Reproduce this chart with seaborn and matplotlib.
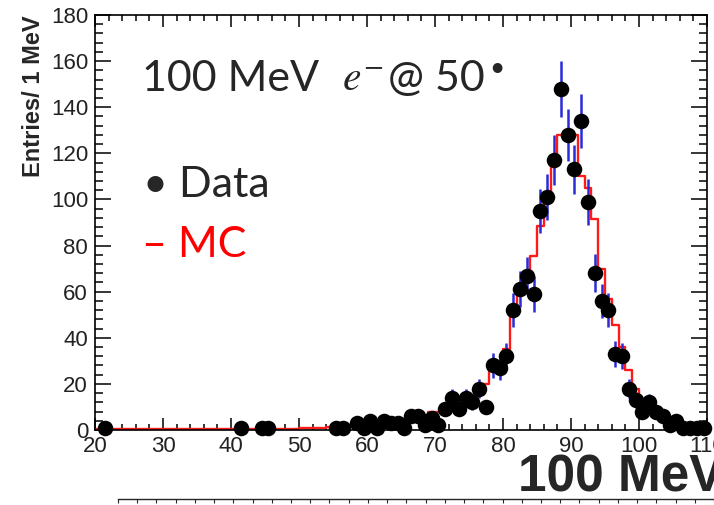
import numpy as np
import pandas as pd
import matplotlib
matplotlib.use("Agg")
import matplotlib.pyplot as plt
import seaborn as sns
from matplotlib.ticker import MultipleLocator
from matplotlib import font_manager as fm

# ---- data ----
data_energy = [21.5, 41.5, 44.5, 45.5, 55.5, 56.5, 58.5, 59.5, 60.5, 61.5,
               62.5, 63.5, 64.5, 65.5, 66.5, 67.5, 68.5, 69.5, 70.5, 71.5,
               72.5, 73.5, 74.5, 75.5, 76.5, 77.5, 78.5, 79.5, 80.5, 81.5,
               82.5, 83.5, 84.5, 85.5, 86.5, 87.5, 88.5, 89.5, 90.5, 91.5,
               92.5, 93.5, 94.5, 95.5, 96.5, 97.5, 98.5, 99.5, 100.5, 101.5,
               102.5, 103.5, 104.5, 105.5, 106.5, 107.5, 108.5, 109.5]
data_entries = [1, 1, 1, 1, 1, 1, 3, 1, 4, 1,
                4, 3, 3, 1, 6, 6, 2, 5, 2, 9,
                14, 9, 14, 12, 18, 10, 28, 27, 32, 52,
                61, 67, 59, 95, 101, 117, 148, 128, 113, 134,
                99, 68, 56, 52, 33, 32, 18, 13, 8, 12,
                8, 6, 2, 4, 1, 1, 1, 1]

mc_bin_low = list(range(20, 110))
mc_entries = [0.3, 0.3, 0.3, 0.3, 0.3, 0.3, 0.3, 0.3, 0.3, 0.3,
              0.4, 0.4, 0.4, 0.4, 0.4, 0.4, 0.4, 0.4, 0.4, 0.4,
              0.5, 0.5, 0.5, 0.5, 0.5, 0.5, 0.5, 0.5, 0.5, 0.5,
              0.8, 0.8, 0.9, 1.0, 1.2, 1.5, 1.5, 2.0, 2.0, 2.5,
              2.5, 3.0, 3.0, 3.5, 4.0, 4.5, 5.5, 6.0, 6.5, 8.0,
              8.0, 9.0, 10.0, 11.0, 12.0, 15.0, 17.0, 20.0, 27.0, 30.0,
              35.0, 50.0, 62.0, 67.0, 75.5, 88.5, 103.0, 116.0, 128.0, 128.0,
              128.0, 110.0, 105.0, 91.5, 70.0, 57.0, 45.5, 36.0, 26.0, 18.0,
              13.0, 9.0, 6.0, 4.0, 2.5, 2.0, 1.5, 1.0, 1.0, 0.8]

x_ticks_major = 10
y_ticks_major = 20

sns.set_theme(style="ticks")
plt.rcParams['font.family'] = ['Liberation Sans', 'DejaVu Sans']
plt.rcParams['mathtext.fontset'] = 'stix'

W, H = 714, 505
fig = plt.figure(figsize=(W / 100, H / 100), dpi=100)
ax = fig.add_axes([95 / W, 75 / H, 612 / W, 415 / H])

mc_df = pd.DataFrame({"energy": np.array(mc_bin_low) + 0.5, "entries": mc_entries})
data_df = pd.DataFrame({"energy": data_energy, "entries": data_entries})

edges = list(mc_bin_low) + [mc_bin_low[-1] + 1]
sns.histplot(data=mc_df, x="energy", weights="entries", bins=edges,
             element="step", fill=False, color="#ff1a1a", linewidth=1.7,
             ax=ax, zorder=2)

ax.errorbar(data_df["energy"], data_df["entries"],
            yerr=np.sqrt(data_df["entries"]), fmt="none",
            ecolor="#2a2ad8", elinewidth=1.8, capsize=0, zorder=3)
sns.scatterplot(data=data_df, x="energy", y="entries", color="black",
                s=125, linewidth=0, ax=ax, legend=False, zorder=4,
                clip_on=False)

ax.set_xlim(20, 110)
ax.set_ylim(0, 180)
ax.xaxis.set_major_locator(MultipleLocator(x_ticks_major))
ax.xaxis.set_minor_locator(MultipleLocator(2))
ax.yaxis.set_major_locator(MultipleLocator(y_ticks_major))
ax.yaxis.set_minor_locator(MultipleLocator(4))
ax.tick_params(which="both", direction="in", top=True, right=True,
               width=1.1, color="black", labelcolor="#222222")
ax.tick_params(axis="x", which="major", length=8.6, labelsize=16, pad=4)
ax.tick_params(axis="x", which="minor", length=4.3)
ax.tick_params(axis="y", which="major", length=11.5, labelsize=16, pad=5)
ax.tick_params(axis="y", which="minor", length=5.8)
for sp in ax.spines.values():
    sp.set_linewidth(1.2)
    sp.set_color("black")

ax.set_xlabel("")
ax.set_ylabel("Entries/ 1 MeV", fontsize=17, fontweight="bold")
ax.yaxis.set_label_coords(-0.082, 0.805)

# overlay texts
fam = ["Lato", "DejaVu Sans"]
fig.text(142 / W, 1 - 91 / H, "100 MeV", fontsize=31, family=fam,
         va="baseline", ha="left")
fig.text(342 / W, 1 - 91 / H, r"$e^{-}$", fontsize=30,
         va="baseline", ha="left")
fig.text(388 / W, 1 - 91 / H, "@ 50", fontsize=31, family=fam,
         va="baseline", ha="left")
fig.text(489 / W, 1 - 76 / H, "•", fontsize=19, family=fam,
         va="baseline", ha="left")
fig.text(143 / W, 1 - 197 / H, "• Data", fontsize=31, family=fam,
         va="baseline", ha="left")
fig.text(142 / W, 1 - 257 / H, "– MC", fontsize=31, color="#ff0000",
         family=fam, va="baseline", ha="left")

avail = {f.name for f in fm.fontManager.ttflist}
if "Liberation Sans Narrow" in avail:
    big_fam, big_size = ["Liberation Sans Narrow"], 44
else:
    big_fam, big_size = ["Liberation Sans"], 37
fig.text(518 / W, 1 - 492 / H, "100 MeV", fontsize=big_size,
         fontweight="bold", family=big_fam, va="baseline", ha="left")

# cut-off axis line at the very bottom
ax2 = fig.add_axes([118 / W, 0, (W - 118) / W, 6 / H])
ax2.set_xlim(0, 31)
ax2.set_ylim(0, 1)
for k in ["left", "right", "bottom"]:
    ax2.spines[k].set_visible(False)
ax2.spines["top"].set_linewidth(1.0)
ax2.set_xticks(range(0, 32))
ax2.set_yticks([])
ax2.tick_params(axis="x", top=True, bottom=False, labeltop=False,
                labelbottom=False, direction="in", length=3, width=0.8)
ax2.patch.set_alpha(0)

fig.savefig("out.png", dpi=100)
